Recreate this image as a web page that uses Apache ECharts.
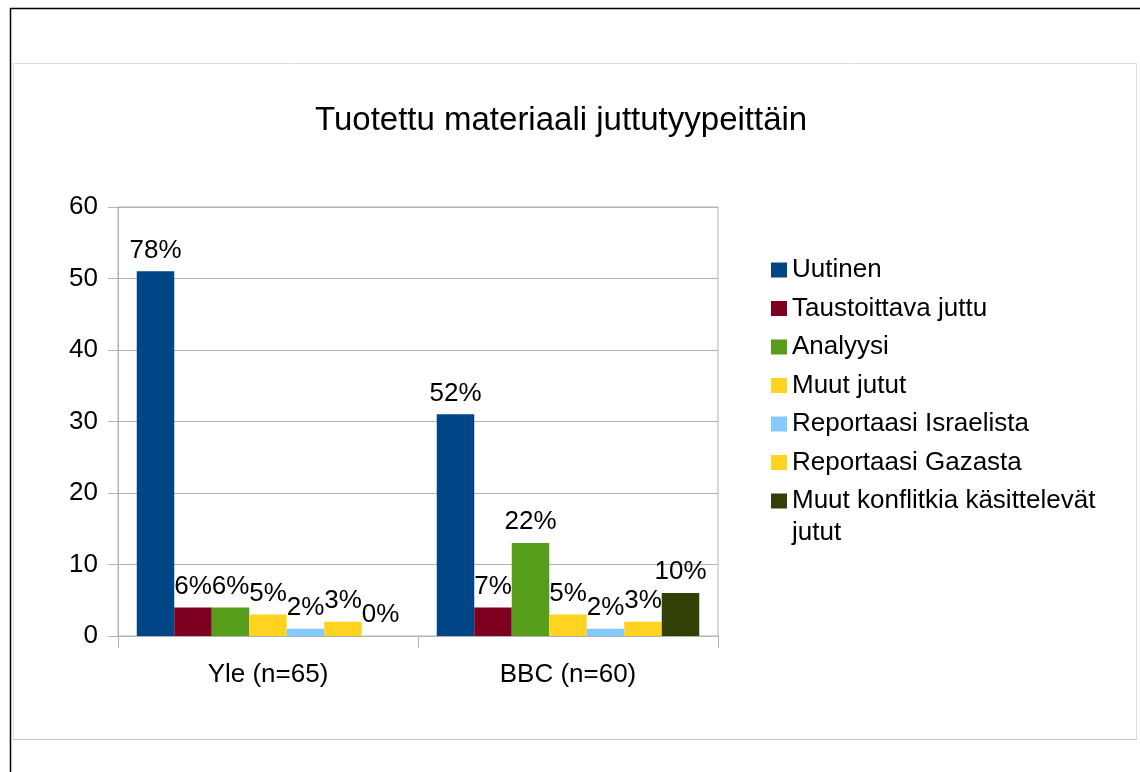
<!DOCTYPE html>
<html>
<head>
	<meta charset="utf-8">
	<title>Tuotettu materiaali juttutyypeittäin</title>
	<script type="text/javascript" src="https://cdn.jsdelivr.net/npm/echarts@6/dist/echarts.min.js"></script>
	<style>
		body { margin: 0; background: #fff; }
	</style>
</head>
<body>
	<div id="main" style="width: 1140px;height:772px;"></div>
	<script type="text/javascript">
		var categories = ['Yle (n=65)', 'BBC (n=60)'];
		var seriesNames = [
			'Uutinen',
			'Taustoittava juttu',
			'Analyysi',
			'Muut jutut',
			'Reportaasi Israelista',
			'Reportaasi Gazasta',
			'Muut konflitkia käsittelevät jutut'
		];
		// number of stories, [Yle, BBC]
		var uutinen = [51, 31];
		var taustoittava = [4, 4];
		var analyysi = [4, 13];
		var muutJutut = [3, 3];
		var israelista = [1, 1];
		var gazasta = [2, 2];
		var konflikti = [0, 6];
		// percent labels printed on the bars
		var uutinenPct = ['78%', '52%'];
		var taustoittavaPct = ['6%', '7%'];
		var analyysiPct = ['6%', '22%'];
		var muutJututPct = ['5%', '5%'];
		var israelistaPct = ['2%', '2%'];
		var gazastaPct = ['3%', '3%'];
		var konfliktiPct = ['0%', '10%'];
		var yTicks = [0, 10, 20, 30, 40, 50, 60];

		var values = [uutinen, taustoittava, analyysi, muutJutut, israelista, gazasta, konflikti];
		var pcts = [uutinenPct, taustoittavaPct, analyysiPct, muutJututPct, israelistaPct, gazastaPct, konfliktiPct];
		var colors = ['#004586', '#7e0021', '#579d1c', '#ffd320', '#83caff', '#ffd320', '#314004'];

		var FONT = 'Liberation Sans';
		var LONG_NAME = seriesNames[seriesNames.length - 1];

		var series = seriesNames.map(function(name, i){
			return {
				name: name,
				type: 'bar',
				barGap: 0,
				barCategoryGap: '12.5%',
				itemStyle: { color: colors[i] },
				label: {
					show: true,
					position: 'top',
					distance: 8,
					fontFamily: FONT,
					fontSize: 26,
					color: '#000',
					formatter: function(p){ return pcts[i][p.dataIndex]; }
				},
				data: values[i]
			};
		});

		var LEGEND_TOP = 254, LEGEND_STEP = 38.5;

		var myChart = echarts.init(document.getElementById('main'));

		var option = {
			animation: false,
			title: {
				text: 'Tuotettu materiaali juttutyypeittäin',
				left: 315,
				top: 104,
				padding: 0,
				textStyle: { fontFamily: FONT, fontSize: 33, fontWeight: 'normal', color: '#000' }
			},
			graphic: [
				{ type: 'rect', silent: true, shape: { x: 13.5, y: 63.5, width: 1123, height: 676 },
				  style: { fill: '#fff', stroke: '#dedede', lineWidth: 1 }, z: -10 },
				{ type: 'line', silent: true, shape: { x1: 13, y1: 739.5, x2: 1137, y2: 739.5 },
				  style: { stroke: '#c8c8c8', lineWidth: 1 }, z: -9 },
				{ type: 'line', silent: true, shape: { x1: 10, y1: 8.5, x2: 1140, y2: 8.5 },
				  style: { stroke: '#000', lineWidth: 1.5 } },
				{ type: 'line', silent: true, shape: { x1: 10.5, y1: 8, x2: 10.5, y2: 772 },
				  style: { stroke: '#000', lineWidth: 1.5 } },
				// second line of the last legend entry
				{ type: 'text', silent: true, left: 792,
				  top: LEGEND_TOP + 6 * LEGEND_STEP + 32,
				  style: { text: 'jutut', fontFamily: FONT, fontSize: 26, fill: '#000', lineHeight: 32 } }
			],
			legend: {
				orient: 'vertical',
				left: 771,
				top: LEGEND_TOP,
				padding: 0,
				itemWidth: 16,
				itemHeight: 15,
				itemGap: 6.5,
				icon: 'rect',
				selectedMode: false,
				textStyle: { fontFamily: FONT, fontSize: 26, color: '#000', lineHeight: 32 },
				formatter: function(name){
					return name === LONG_NAME ? 'Muut konflitkia käsittelevät' : name;
				},
				data: seriesNames
			},
			grid: {
				left: 118,
				right: 422,
				top: 207,
				bottom: 136,
				show: true,
				borderColor: '#b3b3b3',
				borderWidth: 1
			},
			xAxis: {
				type: 'category',
				data: categories,
				axisLine: { lineStyle: { color: '#b3b3b3' } },
				axisTick: { show: true, length: 12, lineStyle: { color: '#b3b3b3' } },
				axisLabel: { margin: 26, fontFamily: FONT, fontSize: 26, color: '#000' }
			},
			yAxis: {
				type: 'value',
				min: yTicks[0],
				max: yTicks[yTicks.length - 1],
				interval: 10,
				axisLine: { show: true, lineStyle: { color: '#b3b3b3' } },
				axisTick: { show: true, length: 10, lineStyle: { color: '#b3b3b3' } },
				splitLine: { lineStyle: { color: '#b3b3b3' } },
				axisLabel: { margin: 20, fontFamily: FONT, fontSize: 26, color: '#000' }
			},
			series: series
		};

		myChart.setOption(option);
	</script>
</body>
</html>
